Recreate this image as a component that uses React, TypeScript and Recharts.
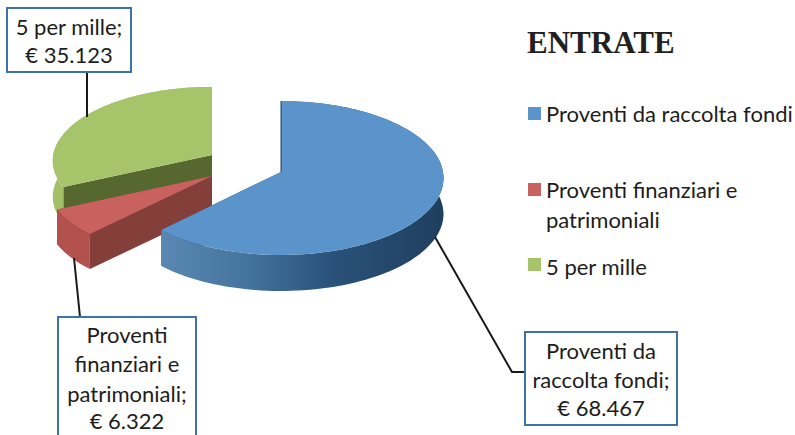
import { Legend, Pie, PieChart } from 'recharts';

// ── Data ────────────────────────────────────────────────────────────────────
const categories = ['Proventi da raccolta fondi', 'Proventi finanziari e patrimoniali', '5 per mille'];
const values = [68467, 6322, 35123];
const legendLines = [['Proventi da raccolta fondi'], ['Proventi finanziari e', 'patrimoniali'], ['5 per mille']];
const calloutLines = [['Proventi da', 'raccolta fondi;'], ['Proventi', 'finanziari e', 'patrimoniali;'], ['5 per mille;']];

// ── Colours ─────────────────────────────────────────────────────────────────
const TOP_COLORS = ['#5b94cb', '#c9625f', '#a6c46a'];
const WALL_COLORS = ['url(#blueWall)', '#b2514e', '#a2c066'];
const CUT_COLORS = ['#244a70', '#843f3b', '#56682f'];
const BORDER = '#3f73a8';
const FONT = 'Lato, "Noto Sans", sans-serif';

// ── Layout (3D look of the Excel pie) ───────────────────────────────────────
const CX = 281;
const CY = 172;
const RADIUS = 162;
const RY = 76.5;
const PERSPECTIVE = 0.078;
const DEPTH = 36;

// explode offset and size tweak per slice
const sliceLayout = [
  { dx: 0, dy: 0, rx: 1, ry: 1, depth: DEPTH },
  { dx: -69, dy: 4, rx: 1.02, ry: 1, depth: 35 },
  { dx: -69, dy: -17, rx: 0.98, ry: 0.96, depth: DEPTH },
];

const calloutLayout = [
  { x: 525, y: 332, w: 152, h: 93, baselines: [359, 388, 416], leader: '435,237 512,372 525,372' },
  { x: 58, y: 317, w: 138, h: 130, baselines: [343, 372, 402, 429], leader: '74,258 80,317' },
  { x: 7, y: 8, w: 124, h: 64, baselines: [35, 63], leader: '87,72 87,117' },
];

const legendLayout = [
  { swatchTop: 107, textTops: [98] },
  { swatchTop: 183, textTops: [174, 204] },
  { swatchTop: 258, textTops: [251] },
];

const formatEuro = (v: number) => `€ ${String(v).replace(/\B(?=(\d{3})+$)/g, '.')}`;

// data is reversed and drawn counter-clockwise so the blue slice paints last
const pieData = categories
  .map((name, i) => ({ name, value: values[i], idx: i }))
  .reverse();

function project(cx: number, cy: number, rx: number, ry: number, deg: number) {
  const a = (deg * Math.PI) / 180;
  const w = 1 + PERSPECTIVE * Math.sin(a);
  return { x: cx + (rx * Math.cos(a)) / w, y: cy - (ry * Math.sin(a)) / w };
}

const toPath = (pts: { x: number; y: number }[]) =>
  pts.map((p, i) => `${i ? 'L' : 'M'}${p.x.toFixed(1)} ${p.y.toFixed(1)}`).join(' ') + ' Z';

function Slice3D(props: any) {
  const { cx, cy, outerRadius, startAngle, endAngle, payload } = props;
  const idx = payload.idx;
  const l = sliceLayout[idx];
  const ax = cx + l.dx;
  const ay = cy + l.dy;
  const rx = outerRadius * l.rx;
  const ry = RY * l.ry;

  const arc: { x: number; y: number }[] = [];
  const steps = Math.ceil(Math.abs(endAngle - startAngle) / 2);
  for (let i = 0; i <= steps; i++) {
    arc.push(project(ax, ay, rx, ry, startAngle + ((endAngle - startAngle) * i) / steps));
  }
  const down = (p: { x: number; y: number }) => ({ x: p.x, y: p.y + l.depth });
  const apex = { x: ax, y: ay };
  const first = arc[0];
  const last = arc[arc.length - 1];

  return (
    <g>
      <path d={toPath([apex, first, down(first), down(apex)])} fill={CUT_COLORS[idx]} />
      <path d={toPath([apex, last, down(last), down(apex)])} fill={CUT_COLORS[idx]} />
      <path d={toPath([...arc, ...arc.map(down).reverse()])} fill={WALL_COLORS[idx]} />
      <path d={toPath([apex, ...arc])} fill={TOP_COLORS[idx]} />
      {idx === 0 && (
        <line x1={apex.x} y1={apex.y} x2={last.x} y2={last.y} stroke="#1f3f5f" strokeWidth={1} />
      )}
    </g>
  );
}

function renderCallout(props: any) {
  const idx = props.payload?.idx ?? props.idx;
  const box = calloutLayout[idx];
  const lines = [...calloutLines[idx], formatEuro(values[idx])];
  return (
    <g key={idx}>
      <polyline points={box.leader} fill="none" stroke="#1a1a1a" strokeWidth={2} />
      <rect x={box.x} y={box.y} width={box.w} height={box.h} fill="#fff" stroke={BORDER} strokeWidth={2} />
      {lines.map((t, i) => (
        <text
          key={t}
          x={box.x + box.w / 2}
          y={box.baselines[i]}
          textAnchor="middle"
          fontFamily={FONT}
          fontSize={22}
          fill="#1d1d1b"
        >
          {t}
        </text>
      ))}
    </g>
  );
}

function LegendBlock() {
  return (
    <div style={{ position: 'relative', width: 795, height: 435 }}>
      {categories.map((name, i) => (
        <div key={name}>
          <div
            style={{
              position: 'absolute',
              left: 528,
              top: legendLayout[i].swatchTop,
              width: 13,
              height: 13,
              background: TOP_COLORS[i],
            }}
          />
          {legendLines[i].map((t, j) => (
            <div
              key={t}
              style={{
                position: 'absolute',
                left: 546,
                top: legendLayout[i].textTops[j],
                fontFamily: FONT,
                fontSize: 22,
                lineHeight: '32px',
                color: '#1d1d1b',
                whiteSpace: 'nowrap',
              }}
            >
              {t}
            </div>
          ))}
        </div>
      ))}
    </div>
  );
}

export default function App() {
  return (
    <div style={{ position: 'fixed', left: 0, top: 0, width: 795, height: 435, overflow: 'hidden', background: '#fff' }}>
      <PieChart width={795} height={435} margin={{ top: 0, right: 0, bottom: 0, left: 0 }}>
        <defs>
          <linearGradient id="blueWall" x1="0" y1="0" x2="1" y2="0">
            <stop offset="0%" stopColor="#5a88b2" />
            <stop offset="30%" stopColor="#44749f" />
            <stop offset="60%" stopColor="#2a527a" />
            <stop offset="100%" stopColor="#1f3f5e" />
          </linearGradient>
        </defs>
        <Pie
          data={pieData}
          dataKey="value"
          nameKey="name"
          cx={CX}
          cy={CY}
          outerRadius={RADIUS}
          startAngle={90}
          endAngle={450}
          paddingAngle={0}
          stroke="none"
          shape={Slice3D}
          label={renderCallout}
          labelLine={false}
          isAnimationActive={false}
        />
        <Legend content={LegendBlock} wrapperStyle={{ left: 0, top: 0, width: 795, height: 435 }} />
      </PieChart>
      <div
        style={{
          position: 'absolute',
          left: 527,
          top: 22,
          fontFamily: '"Liberation Serif", serif',
          fontWeight: 'bold',
          fontSize: 31,
          lineHeight: '42px',
          color: '#231f20',
        }}
      >
        ENTRATE
      </div>
    </div>
  );
}
